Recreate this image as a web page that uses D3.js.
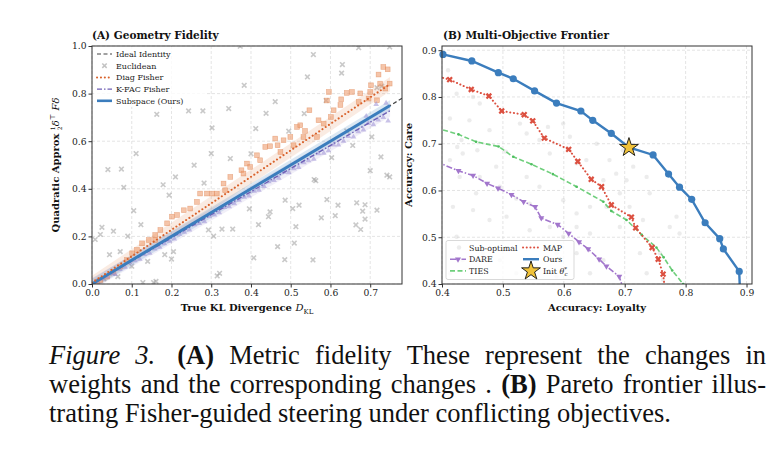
<!DOCTYPE html>
<html>
<head>
<meta charset="utf-8">
<script src="https://cdn.jsdelivr.net/npm/d3@7"></script>
<style>
  body { margin: 0; background: #fff; }
  svg { display: block; }
</style>
</head>
<body>
<script>
// ---- panel A data ----
let euclidX = [0.008,0.021,0.025,0.040,0.054,0.044,0.065,0.071,0.074,0.080,0.090,0.105,0.111,0.123,0.128,0.155,0.161,0.163,0.179,0.183,0.194,0.200,0.205,0.210,0.243,0.257,0.279,0.282,0.293,0.300,0.302,0.306,0.315,0.321,0.327,0.344,0.348,0.354,0.373,0.383,0.396,0.400,0.407,0.412,0.419,0.438,0.444,0.448,0.461,0.467,0.485,0.486,0.495,0.505,0.509,0.513,0.521,0.534,0.542,0.556,0.557,0.559,0.563,0.577,0.589,0.591,0.603,0.612,0.619,0.628,0.630,0.641,0.656,0.664,0.666,0.671,0.676,0.681,0.687,0.687,0.700,0.704,0.717,0.717,0.727,0.729,0.742,0.749,0.749,0.030,0.100,0.140,0.052];
let euclidY = [0.187,0.208,0.238,0.481,0.222,0.123,0.031,0.136,0.483,0.406,0.201,0.308,0.548,0.249,0.006,0.006,0.011,0.713,0.417,0.123,0.373,0.105,0.136,0.450,0.727,0.499,0.727,0.424,0.227,0.548,0.656,0.201,0.034,0.045,0.231,0.737,0.527,0.231,0.999,0.835,0.316,0.547,0.110,0.653,0.249,0.717,0.283,0.303,0.766,0.157,0.102,0.352,0.642,0.317,0.172,0.241,0.331,0.716,0.870,0.101,0.964,0.439,0.434,0.278,0.771,0.355,0.531,0.287,0.331,0.886,0.922,0.643,0.582,0.248,0.341,0.993,0.229,0.306,0.273,0.333,0.476,0.618,0.825,0.310,0.534,0.831,0.457,0.450,0.996,0.022,0.075,0.095,0.045];

let diagX = [0.013,0.021,0.038,0.054,0.071,0.088,0.101,0.113,0.126,0.143,0.159,0.159,0.172,0.189,0.201,0.214,0.231,0.247,0.264,0.272,0.289,0.302,0.314,0.331,0.335,0.348,0.376,0.381,0.390,0.398,0.415,0.423,0.436,0.448,0.461,0.467,0.474,0.482,0.499,0.507,0.516,0.524,0.532,0.536,0.547,0.566,0.570,0.583,0.591,0.596,0.601,0.608,0.625,0.627,0.641,0.654,0.671,0.675,0.696,0.700,0.702,0.717,0.721,0.725,0.733,0.738,0.744,0.749];
let diagY = [0.010,0.017,0.031,0.052,0.073,0.101,0.129,0.143,0.171,0.185,0.206,0.185,0.227,0.255,0.283,0.290,0.310,0.317,0.345,0.380,0.380,0.380,0.380,0.422,0.394,0.450,0.478,0.464,0.506,0.492,0.541,0.520,0.576,0.579,0.611,0.583,0.555,0.604,0.618,0.583,0.660,0.667,0.618,0.643,0.730,0.618,0.688,0.674,0.771,0.807,0.702,0.730,0.752,0.776,0.803,0.807,0.765,0.801,0.779,0.807,0.835,0.772,0.880,0.842,0.912,0.821,0.902,0.842];

let kfacX = [0.012,0.025,0.038,0.050,0.058,0.070,0.083,0.095,0.108,0.120,0.132,0.145,0.158,0.170,0.182,0.195,0.207,0.220,0.232,0.245,0.258,0.270,0.283,0.295,0.308,0.320,0.333,0.345,0.358,0.370,0.383,0.395,0.408,0.420,0.433,0.445,0.458,0.470,0.483,0.495,0.508,0.520,0.533,0.545,0.558,0.570,0.583,0.595,0.608,0.620,0.633,0.645,0.658,0.670,0.683,0.695,0.708,0.720,0.733,0.745,0.715,0.740,0.690];
let kfacY = [0.010,0.022,0.030,0.045,0.040,0.062,0.071,0.090,0.098,0.105,0.125,0.130,0.148,0.155,0.170,0.180,0.190,0.210,0.218,0.228,0.250,0.255,0.262,0.285,0.290,0.300,0.322,0.325,0.338,0.352,0.365,0.370,0.390,0.395,0.410,0.430,0.435,0.445,0.470,0.468,0.485,0.490,0.510,0.518,0.525,0.548,0.550,0.560,0.585,0.585,0.600,0.620,0.618,0.640,0.648,0.675,0.670,0.690,0.700,0.685,0.755,0.760,0.705];

// trend lines (start / end)
let identX = [0, 0.78], identY = [0, 0.78];
let oursAX = [0, 0.75], oursAY = [0, 0.75];
let diagFitX = [0, 0.75], diagFitY = [0.005, 0.84];
let kfacFitX = [0, 0.75], kfacFitY = [0, 0.728];

// ---- panel B data ----
let oursX = [0.4016,0.449,0.4925,0.517,0.552,0.588,0.628,0.6475,0.678,0.707,0.7466,0.772,0.790,0.810,0.832,0.856,0.862,0.888,0.890];
let oursY = [0.891,0.877,0.852,0.839,0.813,0.787,0.770,0.750,0.722,0.692,0.676,0.635,0.607,0.581,0.531,0.497,0.475,0.427,0.36];
let mapX = [0.39,0.4126,0.448,0.477,0.498,0.535,0.549,0.568,0.608,0.623,0.645,0.662,0.678,0.711,0.718,0.745,0.755,0.763,0.768];
let mapY = [0.845,0.837,0.816,0.802,0.770,0.762,0.749,0.712,0.688,0.662,0.624,0.608,0.569,0.543,0.520,0.478,0.453,0.421,0.37];
let tiesX = [0.39,0.427,0.456,0.493,0.517,0.547,0.582,0.621,0.665,0.678,0.703,0.728,0.752,0.764,0.778,0.796,0.805];
let tiesY = [0.734,0.720,0.704,0.694,0.672,0.656,0.635,0.608,0.576,0.556,0.537,0.505,0.478,0.457,0.429,0.400,0.38];
let dareX = [0.39,0.427,0.451,0.474,0.492,0.514,0.534,0.553,0.563,0.590,0.608,0.625,0.640,0.658,0.670,0.691,0.700];
let dareY = [0.662,0.642,0.632,0.615,0.605,0.591,0.576,0.565,0.541,0.527,0.508,0.490,0.475,0.453,0.438,0.416,0.38];
let initStar = [0.707, 0.692];
let subX = [0.41,0.413,0.425,0.432,0.445,0.458,0.478,0.505,0.429,0.462,0.489,0.539,0.522,0.56,0.577,0.599,0.621,0.637,0.643,0.665,0.675,0.686,0.418,0.451,0.478,0.506,0.544,0.577,0.599,0.621,0.643,0.692,0.708,0.73,0.725,0.79,0.785,0.741,0.703,0.665,0.643,0.621,0.588,0.555,0.522,0.495,0.467,0.434,0.413,0.424,0.588,0.736,0.763,0.451,0.462,0.424,0.528,0.539,0.56,0.599,0.61,0.574,0.654,0.697,0.692,0.714,0.736,0.758,0.774,0.67,0.621,0.544,0.495,0.456,0.413,0.434];
let subY = [0.857,0.754,0.693,0.708,0.750,0.686,0.729,0.683,0.629,0.629,0.651,0.629,0.583,0.608,0.679,0.579,0.658,0.665,0.565,0.622,0.665,0.636,0.565,0.558,0.537,0.544,0.515,0.522,0.501,0.522,0.508,0.522,0.565,0.537,0.466,0.508,0.544,0.594,0.622,0.451,0.423,0.466,0.416,0.437,0.423,0.451,0.466,0.451,0.423,0.501,0.466,0.423,0.409,0.800,0.786,0.807,0.743,0.722,0.708,0.743,0.715,0.736,0.700,0.686,0.594,0.651,0.629,0.466,0.522,0.565,0.551,0.572,0.608,0.594,0.665,0.679];

let ticksAX = [0, 0.1, 0.2, 0.3, 0.4, 0.5, 0.6, 0.7];
let ticksAY = [0, 0.2, 0.4, 0.6, 0.8, 1.0];
let ticksB = [0.4, 0.5, 0.6, 0.7, 0.8, 0.9];

let w = 778, h = 450;
let serif = "'DejaVu Serif', serif";

let svg = d3.select('body').append('svg')
    .attr('width', w)
    .attr('height', h)
    .style('font-family', serif);

svg.append('rect').attr('width', w).attr('height', h).attr('fill', '#fff');

let blue = '#3b7dbd', orange = '#e07a3f', purple = '#8c7cc4';

function frame(g, x, y, xt, yt, id) {
    let x0 = x.range()[0], x1 = x.range()[1], y0 = y.range()[0], y1 = y.range()[1];
    // grid
    g.selectAll('.gx').data(xt).enter().append('line')
        .attr('x1', d => x(d)).attr('x2', d => x(d)).attr('y1', y0).attr('y2', y1)
        .attr('stroke', '#d9d9d9').attr('stroke-dasharray', '3,2').attr('stroke-width', 0.7);
    g.selectAll('.gy').data(yt).enter().append('line')
        .attr('y1', d => y(d)).attr('y2', d => y(d)).attr('x1', x0).attr('x2', x1)
        .attr('stroke', '#d9d9d9').attr('stroke-dasharray', '3,2').attr('stroke-width', 0.7);
    svg.append('clipPath').attr('id', id).append('rect')
        .attr('x', x0).attr('y', y1).attr('width', x1 - x0).attr('height', y0 - y1);
}

function axes(g, x, y, xt, yt) {
    let y0 = y.range()[0], x0 = x.range()[0];
    let ax = g.append('g').attr('transform', `translate(0,${y0})`)
        .call(d3.axisBottom(x).tickValues(xt).tickFormat(d3.format('.1f')).tickSize(3.5).tickPadding(2));
    let ay = g.append('g').attr('transform', `translate(${x0},0)`)
        .call(d3.axisLeft(y).tickValues(yt).tickFormat(d3.format('.1f')).tickSize(3.5).tickPadding(2));
    [ax, ay].forEach(a => {
        a.select('.domain').remove();
        a.selectAll('text').attr('font-size', 9.2).attr('font-family', serif).attr('fill', '#222');
        a.selectAll('line').attr('stroke', '#333');
    });
    g.append('rect')
        .attr('x', x.range()[0]).attr('y', y.range()[1])
        .attr('width', x.range()[1] - x.range()[0]).attr('height', y.range()[0] - y.range()[1])
        .attr('fill', 'none').attr('stroke', '#333').attr('stroke-width', 1);
}

function xMark(size) {
    return `M${-size},${-size}L${size},${size}M${-size},${size}L${size},${-size}`;
}

// ================= Panel A =================
let xA = d3.scaleLinear().domain([0, 0.78]).range([92, 402]);
let yA = d3.scaleLinear().domain([0, 1.0]).range([284, 46]);
let gA = svg.append('g');
frame(gA, xA, yA, ticksAX, ticksAY, 'clipA');

let lineA = d3.line().x(d => xA(d[0])).y(d => yA(d[1]));
let pA = gA.append('g').attr('clip-path', 'url(#clipA)');

// Euclidean
pA.selectAll('.eu').data(d3.zip(euclidX, euclidY)).enter().append('path')
    .attr('d', xMark(2.3))
    .attr('transform', d => `translate(${xA(d[0])},${yA(d[1])})`)
    .attr('stroke', '#9c9c9c').attr('stroke-width', 1.6).attr('opacity', 0.55).attr('fill', 'none');

// bands
function band(fx, fy, half, color, op) {
    let pts = d3.zip(fx, fy);
    pA.append('path')
        .attr('d', d3.area().x(d => xA(d[0])).y0(d => yA(d[1] - half)).y1(d => yA(d[1] + half))(pts))
        .attr('fill', color).attr('opacity', op);
}
band(diagFitX, diagFitY, 0.03, orange, 0.15);
band(kfacFitX, kfacFitY, 0.025, purple, 0.12);
band(oursAX, oursAY, 0.022, blue, 0.18);

// Diag Fisher squares
pA.selectAll('.df').data(d3.zip(diagX, diagY)).enter().append('rect')
    .attr('x', d => xA(d[0]) - 2.4).attr('y', d => yA(d[1]) - 2.4)
    .attr('width', 4.8).attr('height', 4.8)
    .attr('fill', '#ee9f72').attr('fill-opacity', 0.6)
    .attr('stroke', '#dd7d48').attr('stroke-opacity', 0.55).attr('stroke-width', 0.6);

// K-FAC triangles
pA.selectAll('.kf').data(d3.zip(kfacX, kfacY)).enter().append('path')
    .attr('d', d3.symbol().type(d3.symbolTriangle).size(14))
    .attr('transform', d => `translate(${xA(d[0])},${yA(d[1])})`)
    .attr('fill', '#9d8fd6').attr('opacity', 0.55);

// lines
pA.append('path').attr('d', lineA(d3.zip(identX, identY)))
    .attr('stroke', '#444').attr('stroke-width', 1.2).attr('stroke-dasharray', '4,2.5').attr('fill', 'none');
pA.append('path').attr('d', lineA(d3.zip(kfacFitX, kfacFitY)))
    .attr('stroke', '#6f5fb5').attr('stroke-width', 1.4).attr('stroke-dasharray', '5,2,1.5,2').attr('fill', 'none');
pA.append('path').attr('d', lineA(d3.zip(oursAX, oursAY)))
    .attr('stroke', blue).attr('stroke-width', 3).attr('fill', 'none');
pA.append('path').attr('d', lineA(d3.zip(diagFitX, diagFitY)))
    .attr('stroke', '#d9622b').attr('stroke-width', 2).attr('stroke-dasharray', '0.1,3.8')
    .attr('stroke-linecap', 'round').attr('fill', 'none');

axes(gA, xA, yA, ticksAX, ticksAY);

// titles / labels A
svg.append('text').attr('x', 92).attr('y', 39).attr('font-size', 10.5).attr('font-weight', 'bold')
    .attr('fill', '#111').text('(A) Geometry Fidelity');

let xlA = svg.append('text').attr('x', 247).attr('y', 311).attr('text-anchor', 'middle')
    .attr('font-size', 10).attr('font-weight', 'bold').attr('fill', '#111');
xlA.append('tspan').text('True KL Divergence ');
xlA.append('tspan').attr('font-style', 'italic').attr('font-weight', 'normal').text('D');
xlA.append('tspan').attr('font-size', 7).attr('font-weight', 'normal').attr('dy', 2.5).text('KL');

let ylA = svg.append('text').attr('transform', 'translate(59,165) rotate(-90)').attr('text-anchor', 'middle')
    .attr('font-size', 10).attr('font-weight', 'bold').attr('fill', '#111');
ylA.append('tspan').text('Quadratic Approx ');
ylA.append('tspan').attr('font-size', 6).attr('font-weight', 'normal').attr('dy', -4).text('1');
ylA.append('tspan').attr('font-size', 6).attr('font-weight', 'normal').attr('dx', -3.8).attr('dy', 6.5).text('2');
ylA.append('tspan').attr('font-style', 'italic').attr('font-weight', 'normal').attr('dy', -2.5).text('δ');
ylA.append('tspan').attr('font-size', 7).attr('font-weight', 'normal').attr('dy', -4).text('⊤');
ylA.append('tspan').attr('font-style', 'italic').attr('font-weight', 'normal').attr('dy', 4).text(' Fδ');

// legend A
let legA = svg.append('g').attr('font-size', 8).attr('fill', '#222');
legA.append('rect').attr('x', 94).attr('y', 47).attr('width', 112).attr('height', 60)
    .attr('fill', '#fff').attr('opacity', 0.8);
let legRowsA = ['Ideal Identity', 'Euclidean', 'Diag Fisher', 'K-FAC Fisher', 'Subspace (Ours)'];
legRowsA.forEach((t, i) => {
    let yy = 54 + i * 11.7;
    legA.append('text').attr('x', 116).attr('y', yy + 3).text(t);
    if (i === 0) legA.append('line').attr('x1', 97).attr('x2', 112).attr('y1', yy).attr('y2', yy)
        .attr('stroke', '#444').attr('stroke-width', 1.2).attr('stroke-dasharray', '4,2.5');
    if (i === 1) legA.append('path').attr('d', xMark(2.2)).attr('transform', `translate(104.5,${yy})`)
        .attr('stroke', '#9c9c9c').attr('stroke-width', 1.5).attr('opacity', 0.6);
    if (i === 2) legA.append('line').attr('x1', 97).attr('x2', 112).attr('y1', yy).attr('y2', yy)
        .attr('stroke', '#d9622b').attr('stroke-width', 2).attr('stroke-dasharray', '0.1,3.8').attr('stroke-linecap', 'round');
    if (i === 3) legA.append('line').attr('x1', 97).attr('x2', 112).attr('y1', yy).attr('y2', yy)
        .attr('stroke', '#6f5fb5').attr('stroke-width', 1.4).attr('stroke-dasharray', '5,2,1.5,2');
    if (i === 4) legA.append('line').attr('x1', 97).attr('x2', 112).attr('y1', yy).attr('y2', yy)
        .attr('stroke', blue).attr('stroke-width', 2.6);
});

// ================= Panel B =================
let xB = d3.scaleLinear().domain([0.4, 0.909]).range([442, 752]);
let yB = d3.scaleLinear().domain([0.4, 0.909]).range([284, 46]);
let gB = svg.append('g');
frame(gB, xB, yB, ticksB, ticksB, 'clipB');
let lineB = d3.line().x(d => xB(d[0])).y(d => yB(d[1]));
let pB = gB.append('g').attr('clip-path', 'url(#clipB)');

pB.selectAll('.sub').data(d3.zip(subX, subY)).enter().append('circle')
    .attr('cx', d => xB(d[0])).attr('cy', d => yB(d[1])).attr('r', 2.2)
    .attr('fill', '#c8c8c8').attr('opacity', 0.35);

let inB = d => d[0] >= 0.4 && d[1] >= 0.4;
let red = '#dc5040', green = '#6fcf7c', dare = '#a276cc';

// TIES
pB.append('path').attr('d', lineB(d3.zip(tiesX, tiesY)))
    .attr('stroke', green).attr('stroke-width', 1.6).attr('stroke-dasharray', '5,2.5').attr('fill', 'none');
pB.selectAll('.ti').data(d3.zip(tiesX, tiesY).filter(inB)).enter().append('circle')
    .attr('cx', d => xB(d[0])).attr('cy', d => yB(d[1])).attr('r', 1.3).attr('fill', '#4fbf60');

// DARE
pB.append('path').attr('d', lineB(d3.zip(dareX, dareY)))
    .attr('stroke', dare).attr('stroke-width', 1.6).attr('stroke-dasharray', '6,2,1.5,2').attr('fill', 'none');
gB.selectAll('.da').data(d3.zip(dareX, dareY).filter(inB)).enter().append('path')
    .attr('d', d3.symbol().type(d3.symbolTriangle).size(16))
    .attr('transform', d => `translate(${xB(d[0])},${yB(d[1])}) rotate(180)`)
    .attr('fill', dare);

// MAP
pB.append('path').attr('d', lineB(d3.zip(mapX, mapY)))
    .attr('stroke', red).attr('stroke-width', 2).attr('stroke-dasharray', '0.1,3.6').attr('stroke-linecap', 'round').attr('fill', 'none');
gB.selectAll('.mp').data(d3.zip(mapX, mapY).filter(inB)).enter().append('path')
    .attr('d', xMark(2.4))
    .attr('transform', d => `translate(${xB(d[0])},${yB(d[1])})`)
    .attr('stroke', red).attr('stroke-width', 2.2);

// Ours
pB.append('path').attr('d', lineB(d3.zip(oursX, oursY)))
    .attr('stroke', blue).attr('stroke-width', 2.4).attr('fill', 'none');
gB.selectAll('.ou').data(d3.zip(oursX, oursY).filter(inB)).enter().append('circle')
    .attr('cx', d => xB(d[0])).attr('cy', d => yB(d[1])).attr('r', 3.6).attr('fill', blue);

// init star
gB.append('path').attr('d', d3.symbol().type(d3.symbolStar).size(110))
    .attr('transform', `translate(${xB(initStar[0])},${yB(initStar[1])})`)
    .attr('fill', '#f0c23a').attr('stroke', '#111').attr('stroke-width', 0.9);

axes(gB, xB, yB, ticksB, ticksB);

svg.append('text').attr('x', 443).attr('y', 39).attr('font-size', 10.5).attr('font-weight', 'bold')
    .attr('fill', '#111').text('(B) Multi-Objective Frontier');
svg.append('text').attr('x', 597).attr('y', 311).attr('text-anchor', 'middle')
    .attr('font-size', 10).attr('font-weight', 'bold').attr('fill', '#111').text('Accuracy: Loyalty');
svg.append('text').attr('transform', 'translate(412,165) rotate(-90)').attr('text-anchor', 'middle')
    .attr('font-size', 10).attr('font-weight', 'bold').attr('fill', '#111').text('Accuracy: Care');

// legend B
let legB = svg.append('g').attr('font-size', 7.9).attr('fill', '#222');
legB.append('rect').attr('x', 446).attr('y', 240.5).attr('width', 128).attr('height', 39).attr('rx', 2)
    .attr('fill', '#fff').attr('fill-opacity', 0.8).attr('stroke', '#cfcfcf').attr('stroke-width', 0.8);
let rowsB = [247.5, 259.2, 270.9];
legB.append('circle').attr('cx', 459).attr('cy', rowsB[0]).attr('r', 2.2).attr('fill', '#c8c8c8').attr('opacity', 0.35);
legB.append('text').attr('x', 469).attr('y', rowsB[0] + 3).text('Sub-optimal');
legB.append('line').attr('x1', 450).attr('x2', 466).attr('y1', rowsB[1]).attr('y2', rowsB[1])
    .attr('stroke', dare).attr('stroke-width', 1.6).attr('stroke-dasharray', '6,2,1.5,2');
legB.append('path').attr('d', d3.symbol().type(d3.symbolTriangle).size(16))
    .attr('transform', `translate(458,${rowsB[1]}) rotate(180)`).attr('fill', dare);
legB.append('text').attr('x', 469).attr('y', rowsB[1] + 3).text('DARE');
legB.append('line').attr('x1', 450).attr('x2', 466).attr('y1', rowsB[2]).attr('y2', rowsB[2])
    .attr('stroke', green).attr('stroke-width', 1.6).attr('stroke-dasharray', '5,2.5');
legB.append('text').attr('x', 469).attr('y', rowsB[2] + 3).text('TIES');

legB.append('line').attr('x1', 523).attr('x2', 539).attr('y1', rowsB[0]).attr('y2', rowsB[0])
    .attr('stroke', red).attr('stroke-width', 2).attr('stroke-dasharray', '0.1,3.6').attr('stroke-linecap', 'round');
legB.append('text').attr('x', 543).attr('y', rowsB[0] + 3).text('MAP');
legB.append('line').attr('x1', 523).attr('x2', 539).attr('y1', rowsB[1]).attr('y2', rowsB[1])
    .attr('stroke', blue).attr('stroke-width', 2.4);
legB.append('text').attr('x', 543).attr('y', rowsB[1] + 3).text('Ours');
legB.append('path').attr('d', d3.symbol().type(d3.symbolStar).size(110))
    .attr('transform', `translate(531,${rowsB[2]})`).attr('fill', '#f0c23a').attr('stroke', '#111').attr('stroke-width', 0.9);
let initT = legB.append('text').attr('x', 543).attr('y', rowsB[2] + 3);
initT.append('tspan').text('Init ');
initT.append('tspan').attr('font-style', 'italic').text('θ');
initT.append('tspan').attr('font-size', 5.5).attr('dy', -3).text('*');
initT.append('tspan').attr('font-size', 5.5).attr('font-style', 'italic').attr('dx', -2.5).attr('dy', 5).text('c');

// ================= caption =================
let capLines = [
    [['Figure', 'i'], ['3.', 'i'], ['(A)', 'b'], ['Metric', ''], ['fidelity', ''], ['These', ''], ['represent', ''], ['the', ''], ['changes', ''], ['in', '']],
    [['weights', ''], ['and', ''], ['the', ''], ['corresponding', ''], ['changes', ''], ['.', ''], ['(B)', 'b'], ['Pareto', ''], ['frontier', ''], ['illus-', '']],
    [['trating', ''], ['Fisher-guided', ''], ['steering', ''], ['under', ''], ['conflicting', ''], ['objectives.', '']]
];
let capBase = [364, 393, 422];
let capLeft = 49, capRight = 766;
let cap = svg.append('g').attr('font-family', "'Liberation Serif', 'Times New Roman', serif")
    .attr('font-size', 26.5).attr('fill', '#111');
capLines.forEach((words, li) => {
    let nodes = words.map(wd => cap.append('text')
        .attr('y', capBase[li])
        .attr('font-style', wd[1] === 'i' ? 'italic' : 'normal')
        .attr('font-weight', wd[1] === 'b' ? 'bold' : 'normal')
        .text(wd[0]));
    let widths = nodes.map(n => n.node().getComputedTextLength());
    let extra = li === 0 ? 7 : 0;   // wider gap after "Figure 3."
    let gap = li < 2 ? (capRight - capLeft - d3.sum(widths) - extra) / (words.length - 1) : 6.6;
    let xx = capLeft;
    nodes.forEach((n, i) => {
        n.attr('x', xx);
        xx += widths[i] + gap + (li === 0 && i === 1 ? extra : 0);
    });
});
</script>
</body>
</html>
